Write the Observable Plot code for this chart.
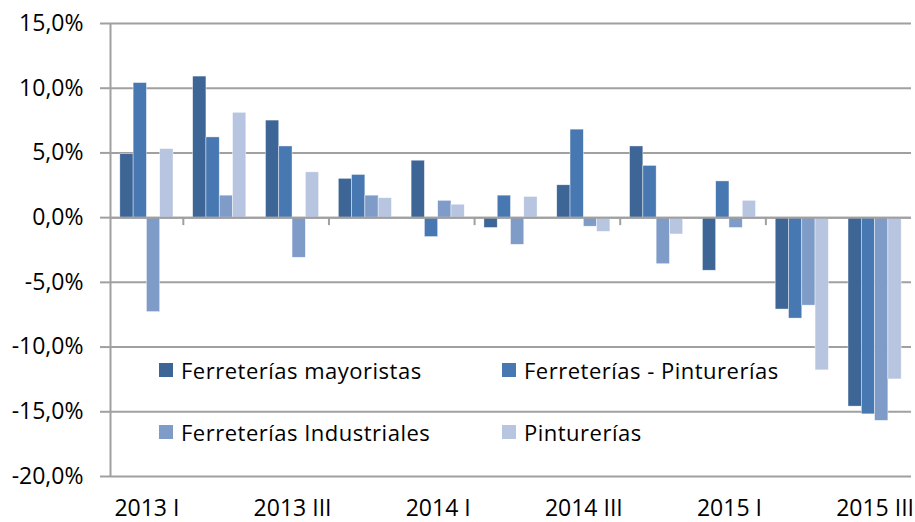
<!DOCTYPE html>
<html>
<head>
<meta charset="utf-8">
<script src="https://cdn.jsdelivr.net/npm/d3@7"></script>
<script src="https://cdn.jsdelivr.net/npm/@observablehq/plot@0.6"></script>
<style>
  html, body { margin: 0; padding: 0; background: #fff; }
  #wrap { position: relative; width: 915px; height: 522px; font-family: "Open Sans", sans-serif; }
  .leg { position: absolute; display: flex; align-items: center; font-size: 22px; letter-spacing: 0.5px; color: #000; white-space: nowrap; }
  .sw { width: 14px; height: 14px; margin-right: 8px; }
</style>
</head>
<body>
<div id="wrap"></div>
<script>
const quarters = ["2013 I","2013 II","2013 III","2013 IV","2014 I","2014 II","2014 III","2014 IV","2015 I","2015 II","2015 III"];
const xTickLabels = ["2013 I","2013 III","2014 I","2014 III","2015 I","2015 III"];
const series = ["Ferreterías mayoristas","Ferreterías - Pinturerías","Ferreterías Industriales","Pinturerías"];
const mayoristas      = [4.9, 10.9, 7.5, 3.0, 4.4, -0.8, 2.5, 5.5, -4.1, -7.1, -14.6];
const ferrPinturerias = [10.4, 6.2, 5.5, 3.3, -1.5, 1.7, 6.8, 4.0, 2.8, -7.8, -15.2];
const industriales    = [-7.3, 1.7, -3.1, 1.7, 1.3, -2.1, -0.7, -3.6, -0.8, -6.8, -15.7];
const pinturerias     = [5.3, 8.1, 3.5, 1.5, 1.0, 1.6, -1.1, -1.3, 1.3, -11.8, -12.5];
const yTicks = [-20, -15, -10, -5, 0, 5, 10, 15];

const colors = ["#3d6596", "#4878b2", "#7f9cc9", "#b7c5e0"];
const seriesValues = [mayoristas, ferrPinturerias, industriales, pinturerias];

const W = 915, H = 522, mL = 110, mR = 4, mT = 23, mB = 46;
const step = (W - mL - mR) / quarters.length;
const groupOffset = step * 0.135;
const barW = (step - 2 * groupOffset) / 4;

const gray = "#a0a0a0";
const fmt = d => d.toFixed(1).replace(".", ",") + "%";

const barMarks = seriesValues.map((vals, i) => {
  const data = quarters.map((q, j) => ({quarter: q, value: vals[j]}));
  return Plot.barY(data, {
    x: "quarter", y: "value",
    fill: colors[i],
    stroke: "#ffffff", strokeWidth: 0.6, strokeOpacity: 0.7,
    insetLeft: groupOffset + barW * i,
    insetRight: step - (groupOffset + barW * (i + 1))
  });
});

const chart = Plot.plot({
  width: W, height: H,
  marginLeft: mL, marginRight: mR, marginTop: mT, marginBottom: mB,
  style: {fontFamily: "Open Sans, sans-serif", background: "#fff"},
  x: {type: "band", domain: quarters, padding: 0, round: false, label: null},
  y: {domain: [-20, 15], label: null},
  marks: [
    Plot.ruleY(yTicks, {stroke: gray, strokeWidth: 2}),
    ...barMarks,
    Plot.ruleY([0], {stroke: gray, strokeWidth: 2}),
    Plot.ruleX([quarters[1], quarters[3], quarters[5], quarters[7], quarters[9]], {
      x: d => d, y1: () => 0, y2: () => 0, dx: -step / 2, insetBottom: -8, stroke: gray, strokeWidth: 2
    }),
    Plot.ruleX([quarters[0]], {x: d => d, y1: () => -20, y2: () => 15, dx: -step / 2, stroke: gray, strokeWidth: 2}),
    Plot.axisY({ticks: yTicks, tickFormat: fmt, tickSize: 10, tickPadding: 17, fontSize: 23, stroke: gray, strokeWidth: 2, color: "#000", label: null}),
    Plot.axisX({ticks: xTickLabels, tickSize: 0, tickPadding: 23, fontSize: 23, color: "#000", label: null})
  ]
});

const wrap = document.getElementById("wrap");
wrap.appendChild(chart);

const legPos = [[159, 370], [502, 370], [159, 432], [502, 432]];
series.forEach((s, i) => {
  const el = document.createElement("div");
  el.className = "leg";
  el.style.left = legPos[i][0] + "px";
  el.style.top = (legPos[i][1] - 15) + "px";
  el.style.height = "30px";
  el.innerHTML = `<span class="sw" style="background:${colors[i]}"></span><span>${s}</span>`;
  wrap.appendChild(el);
});
</script>
</body>
</html>
